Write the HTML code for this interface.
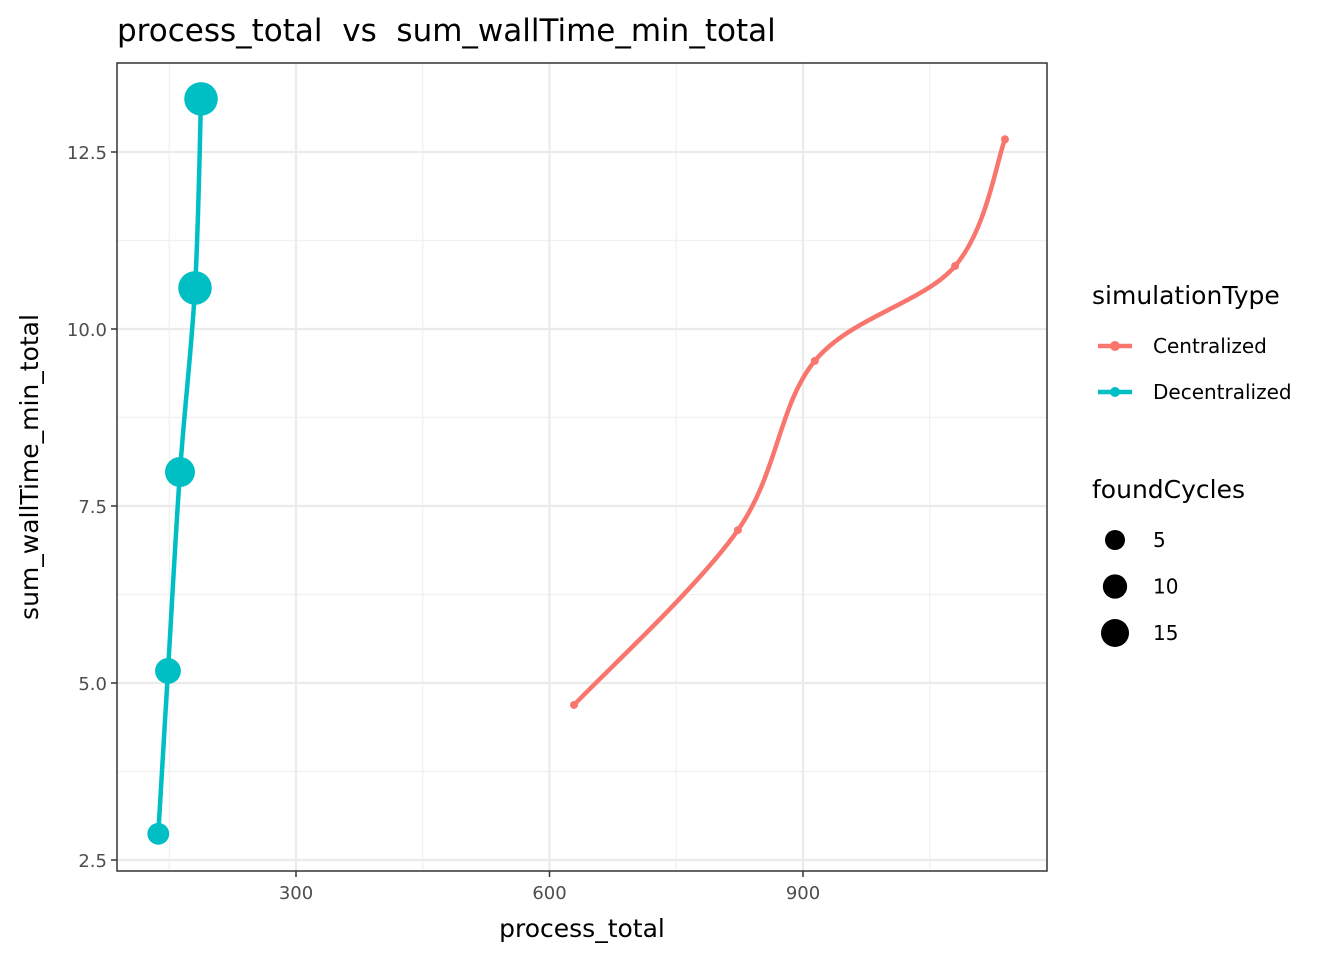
<!DOCTYPE html>
<html><head><meta charset="utf-8"><style>
body{margin:0;background:#fff;}
svg{display:block;font-family:"DejaVu Sans","Liberation Sans",sans-serif;}
</style></head><body>
<svg id="chart" width="1344" height="960">
<text x="117" y="41" font-size="31" fill="#000" xml:space="preserve" style="white-space:pre">process_total  vs  sum_wallTime_min_total</text>
<g id="grid"></g>
<g id="series"></g>
<rect x="117" y="63" width="930" height="808" fill="none" stroke="#333" stroke-width="1.5"/>
<g id="axes"></g>
<text x="582" y="937" font-size="25" text-anchor="middle">process_total</text>
<text transform="translate(38,467) rotate(-90)" font-size="25" text-anchor="middle">sum_wallTime_min_total</text>
<g>
<text x="1092" y="304" font-size="25">simulationType</text>
<g>
<line x1="1098" y1="346" x2="1132" y2="346" stroke="#F8766D" stroke-width="4.5"/><circle cx="1115" cy="346" r="5" fill="#F8766D"/>
<text x="1153" y="353" font-size="20">Centralized</text></g>
<g>
<line x1="1098" y1="392" x2="1132" y2="392" stroke="#00BFC4" stroke-width="4.5"/><circle cx="1115" cy="392" r="5" fill="#00BFC4"/>
<text x="1153" y="399" font-size="20">Decentralized</text></g>
</g>
<g>
<text x="1092" y="498" font-size="25">foundCycles</text>
<g id="sizeLegend"></g>
</g>
</svg>
<script>
const categories = ["Centralized","Decentralized"];
const centralX = [629, 823, 914, 1080, 1139];
const centralY = [4.69, 7.16, 9.55, 10.89, 12.68];
const decentX = [137, 148.5, 162.7, 180.5, 187.6];
const decentY = [2.87, 5.17, 7.98, 10.58, 13.25];
const decentCycles = [7, 12, 18, 24, 24];
const xTicks = [300, 600, 900];
const xMinor = [150, 450, 750, 1050];
const yTicks = [2.5, 5.0, 7.5, 10.0, 12.5];
const yMinor = [3.75, 6.25, 8.75, 11.25];
const sizeLegend = [5, 10, 15];

const NS="http://www.w3.org/2000/svg";
const L=117,R=1047,T=63,B=871;
const xs=v=>42.5+v*0.845;
const ys=v=>860-(v-2.5)*70.8;
const rs=v=>Math.sqrt(Math.max(16,100+9.6*(v-5)));
function mk(tag,attrs,parent){const e=document.createElementNS(NS,tag);for(const k in attrs)e.setAttribute(k,attrs[k]);parent.appendChild(e);return e;}
const grid=document.getElementById('grid'),axes=document.getElementById('axes'),ser=document.getElementById('series');
xMinor.forEach(v=>{const l=mk('line',{x1:xs(v),x2:xs(v),y1:T,y2:B,stroke:'#f0f0f0','stroke-width':1.2},grid);

});
yMinor.forEach(v=>{const l=mk('line',{x1:L,x2:R,y1:ys(v),y2:ys(v),stroke:'#f0f0f0','stroke-width':1.2},grid);

});
xTicks.forEach(v=>{const l=mk('line',{x1:xs(v),x2:xs(v),y1:T,y2:B,stroke:'#ebebeb','stroke-width':2.2},grid);


const t=mk('line',{x1:xs(v),x2:xs(v),y1:B,y2:B+6,stroke:'#333','stroke-width':1.5},axes);


const tx=mk('text',{x:xs(v),y:B+28,'font-size':18,fill:'#4d4d4d','text-anchor':'middle'},axes);tx.textContent=v;

});
yTicks.forEach(v=>{const l=mk('line',{x1:L,x2:R,y1:ys(v),y2:ys(v),stroke:'#ebebeb','stroke-width':2.2},grid);


const t=mk('line',{x1:L-6,x2:L,y1:ys(v),y2:ys(v),stroke:'#333','stroke-width':1.5},axes);


const tx=mk('text',{x:L-10,y:ys(v)+7,'font-size':18,fill:'#4d4d4d','text-anchor':'end'},axes);tx.textContent=v.toFixed(1);

});
function spline(px,py){const P=px.map((x,i)=>[xs(x),ys(py[i])]);let d=`M${P[0][0]},${P[0][1]}`;
for(let i=0;i<P.length-1;i++){const p0=P[Math.max(0,i-1)],p1=P[i],p2=P[i+1],p3=P[Math.min(P.length-1,i+2)];
d+=` C${p1[0]+(p2[0]-p0[0])/6},${p1[1]+(p2[1]-p0[1])/6} ${p2[0]-(p3[0]-p1[0])/6},${p2[1]-(p3[1]-p1[1])/6} ${p2[0]},${p2[1]}`;}return d;}
const lc=mk('path',{d:spline(centralX,centralY),fill:'none',stroke:'#F8766D','stroke-width':4.5},ser);


const ld=mk('path',{d:spline(decentX,decentY),fill:'none',stroke:'#00BFC4','stroke-width':4.5},ser);


centralX.forEach((x,i)=>{const c=mk('circle',{cx:xs(x),cy:ys(centralY[i]),r:4,fill:'#F8766D'},ser);

});
decentX.forEach((x,i)=>{const c=mk('circle',{cx:xs(x),cy:ys(decentY[i]),r:rs(decentCycles[i]),fill:'#00BFC4'},ser);

});
const sl=document.getElementById('sizeLegend');
sizeLegend.forEach((v,i)=>{const y=540+i*46.5;
const c=mk('circle',{cx:1115,cy:y,r:rs(v),fill:'#000'},sl);


const t=mk('text',{x:1153,y:y+7,'font-size':20},sl);t.textContent=v;

});
</script>
</body></html>
